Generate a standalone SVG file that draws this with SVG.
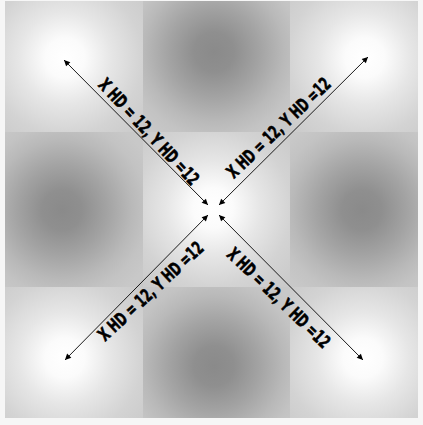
<svg xmlns="http://www.w3.org/2000/svg" width="423" height="425" viewBox="0 0 423 425">
<defs>
<style>
.lbl{font-family:"DejaVu Sans Condensed","DejaVu Sans","Liberation Sans",sans-serif;font-weight:bold;font-size:18px;fill:#000;stroke:#000;stroke-width:0.6;stroke-linejoin:round}
.conn{stroke:#1a1a1a;stroke-width:1;fill:none;marker-start:url(#ah);marker-end:url(#ah)}
</style>
<marker id="ah" viewBox="0 0 10 10" refX="10" refY="5" markerWidth="7" markerHeight="6" markerUnits="userSpaceOnUse" orient="auto-start-reverse">
<path d="M0,0 L10,5 L0,10 z" fill="#000"/>
</marker>
<radialGradient id="light">
<stop offset="0" stop-color="#ffffff"/>
<stop offset="0.18" stop-color="#fbfbfb"/>
<stop offset="0.42" stop-color="#e6e6e6"/>
<stop offset="0.7" stop-color="#d3d3d3"/>
<stop offset="1" stop-color="#c8c8c8"/>
</radialGradient>
<radialGradient id="dark">
<stop offset="0" stop-color="#8a8a8a"/>
<stop offset="0.2" stop-color="#8f8f8f"/>
<stop offset="0.45" stop-color="#a3a3a3"/>
<stop offset="0.7" stop-color="#b9b9b9"/>
<stop offset="0.85" stop-color="#c3c3c3"/>
<stop offset="1" stop-color="#c8c8c8"/>
</radialGradient>
<radialGradient id="gTL" href="#light" gradientUnits="userSpaceOnUse" cx="65" cy="58" r="110"/>
<radialGradient id="gTR" href="#light" gradientUnits="userSpaceOnUse" cx="365" cy="58" r="110"/>
<radialGradient id="gBL" href="#light" gradientUnits="userSpaceOnUse" cx="65" cy="358" r="110"/>
<radialGradient id="gBR" href="#light" gradientUnits="userSpaceOnUse" cx="363" cy="358" r="110"/>
<radialGradient id="gC" href="#light" gradientUnits="userSpaceOnUse" cx="213" cy="208" r="112"/>
<radialGradient id="gT" href="#dark" gradientUnits="userSpaceOnUse" cx="214" cy="52" r="100"/>
<radialGradient id="gL" href="#dark" gradientUnits="userSpaceOnUse" cx="62" cy="210" r="100"/>
<radialGradient id="gR" href="#dark" gradientUnits="userSpaceOnUse" cx="362" cy="210" r="100"/>
<radialGradient id="gB" href="#dark" gradientUnits="userSpaceOnUse" cx="214" cy="366" r="100"/>
</defs>
<g id="background">
<rect x="0" y="0" width="423" height="425" fill="#f6f6f6"/>
<rect x="5" y="1" width="138" height="131" fill="url(#gTL)"/>
<rect x="143" y="1" width="147" height="131" fill="url(#gT)"/>
<rect x="290" y="1" width="128" height="131" fill="url(#gTR)"/>
<rect x="5" y="132" width="138" height="155" fill="url(#gL)"/>
<rect x="143" y="132" width="147" height="155" fill="url(#gC)"/>
<rect x="290" y="132" width="128" height="155" fill="url(#gR)"/>
<rect x="5" y="287" width="138" height="131" fill="url(#gBL)"/>
<rect x="143" y="287" width="147" height="131" fill="url(#gB)"/>
<rect x="290" y="287" width="128" height="131" fill="url(#gBR)"/>
</g>
<g id="connectors">
<line class="conn" x1="208" y1="205" x2="64" y2="60"/>
<line class="conn" x1="219" y1="205" x2="368" y2="57"/>
<line class="conn" x1="208" y1="215" x2="65" y2="360"/>
<line class="conn" x1="219" y1="215" x2="363" y2="360"/>
</g>
<g id="label-tl"><text class="lbl" text-anchor="middle" textLength="138" lengthAdjust="spacingAndGlyphs" transform="translate(144.3,136) rotate(47)">X HD = 12, Y HD =12</text></g>
<g id="label-tr"><text class="lbl" text-anchor="middle" textLength="136" lengthAdjust="spacingAndGlyphs" transform="translate(283,132.3) rotate(-43.7)">X HD = 12, Y HD =12</text></g>
<g id="label-bl"><text class="lbl" text-anchor="middle" textLength="136" lengthAdjust="spacingAndGlyphs" transform="translate(155,295.8) rotate(-42.8)">X HD = 12, Y HD =12</text></g>
<g id="label-br"><text class="lbl" text-anchor="middle" textLength="135" lengthAdjust="spacingAndGlyphs" transform="translate(274.4,302.3) rotate(44)">X HD = 12, Y HD =12</text></g>
</svg>
